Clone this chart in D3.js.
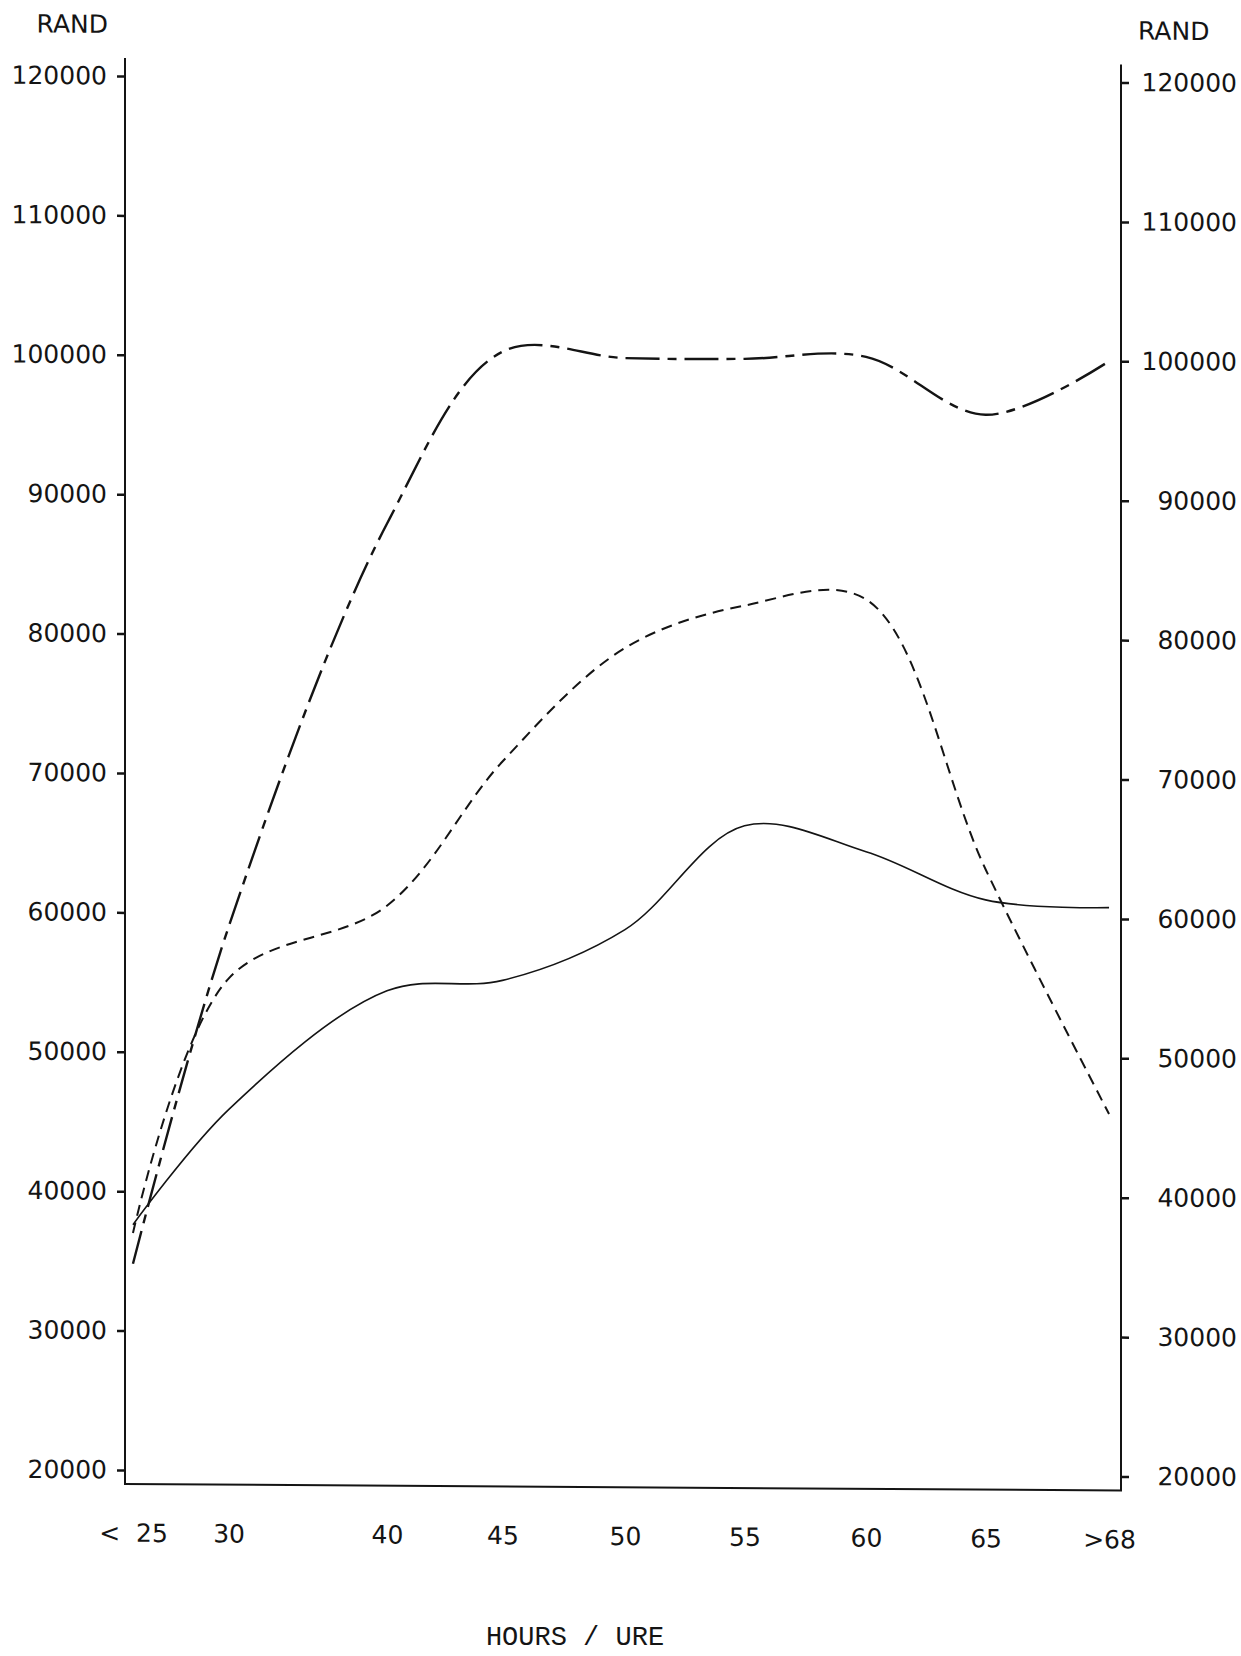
<!DOCTYPE html>
<html>
<head>
<meta charset="utf-8">
<script src="https://cdn.jsdelivr.net/npm/d3@7"></script>
<style>
    body { margin: 0; background: #fff; }
    .axis-label { font-family: "DejaVu Sans", sans-serif; font-size: 25px; fill: #141414; }
    .axis text { font-family: "DejaVu Sans", sans-serif; font-size: 25px; fill: #141414; }
    .axis line { stroke: #141414; stroke-width: 2.5; }
    .axis .domain { display: none; }
    .frame { stroke: #141414; stroke-width: 2; fill: none; }
    .series { fill: none; stroke: #141414; stroke-linecap: butt; }
    .title-x { font-family: "Liberation Mono", monospace; font-size: 27px; fill: #141414; }
</style>
</head>
<body>
<div id="chart"></div>
<script>
// hours categories (x axis)
const hourLabels = ["<  25", "30", "40", "45", "50", "55", "60", "65", ">68"];
const hours = [25, 30, 40, 45, 50, 55, 60, 65, 68];

// rand ticks (y axis)
const randTicks = [20000, 30000, 40000, 50000, 60000, 70000, 80000, 90000, 100000, 110000, 120000];

// series values
const solidValues = [37600, 45900, 54500, 55300, 59000, 66500, 64700, 61300, 60800];
const dashedValues = [37000, 55300, 60600, 71000, 79200, 82300, 82800, 63500, 46000];
const dashDotValues = [34800, 59000, 88000, 100400, 100000, 100000, 100200, 96100, 100000];

const config = {
    width: 1241,
    height: 1656,
    left: 125,
    right: 1121,
    yTop: 76,        // pixel of 120000
    yBottom: 1470,   // pixel of 20000
    axisTop: 58,
    axisBottom: 1484,
    skew: 0.374      // the scan is sheared a little: right side sits lower
};

const plotWidth = config.right - config.left;
// category positions along the plot width (not evenly spaced on the original)
const xStops = [0.008, 0.104, 0.263, 0.379, 0.502, 0.622, 0.744, 0.864, 0.988];

const x = d3.scaleLinear()
    .domain(hours)
    .range(xStops.map(f => config.left + f * plotWidth));

const y = d3.scaleLinear()
    .domain([20000, 120000])
    .range([config.yBottom, config.yTop]);

const svg = d3.select("#chart").append("svg")
    .attr("width", config.width)
    .attr("height", config.height);

svg.append("rect")
    .attr("width", config.width)
    .attr("height", config.height)
    .attr("fill", "#fff");

const g = svg.append("g")
    .attr("transform", `translate(${config.left},0) skewY(${config.skew}) translate(${-config.left},0)`);

// axis lines
g.append("line").attr("class", "frame")
    .attr("x1", config.left).attr("x2", config.left)
    .attr("y1", config.axisTop).attr("y2", config.axisBottom);
g.append("line").attr("class", "frame")
    .attr("x1", config.right).attr("x2", config.right)
    .attr("y1", config.axisTop).attr("y2", config.axisBottom);
g.append("line").attr("class", "frame")
    .attr("x1", config.left - 1).attr("x2", config.right + 1)
    .attr("y1", config.axisBottom).attr("y2", config.axisBottom);

// left axis
const yAxisLeft = d3.axisLeft(y)
    .tickValues(randTicks)
    .tickSize(8)
    .tickPadding(10)
    .tickFormat(d3.format("d"));

g.append("g")
    .attr("class", "axis y-left")
    .attr("transform", `translate(${config.left},0)`)
    .call(yAxisLeft);

// right axis, labels right aligned at the page edge
const yAxisRight = d3.axisRight(y)
    .tickValues(randTicks)
    .tickSize(8)
    .tickFormat(d3.format("d"));

g.append("g")
    .attr("class", "axis y-right")
    .attr("transform", `translate(${config.right},0)`)
    .call(yAxisRight)
    .selectAll("text")
    .attr("text-anchor", "end")
    .attr("x", 116);

// bottom axis: labels only
const xAxis = d3.axisBottom(x)
    .tickValues(hours)
    .tickSize(0)
    .tickPadding(40)
    .tickFormat((d, i) => hourLabels[i]);

g.append("g")
    .attr("class", "axis x-axis")
    .attr("transform", `translate(0,${config.axisBottom})`)
    .call(xAxis)
    .selectAll("text")
    .style("white-space", "pre");

// unit labels
g.append("text").attr("class", "axis-label")
    .attr("x", 108).attr("y", 33)
    .attr("text-anchor", "end")
    .text("RAND");
g.append("text").attr("class", "axis-label")
    .attr("x", 1138).attr("y", 33)
    .text("RAND");

svg.append("text").attr("class", "title-x")
    .attr("x", 575).attr("y", 1645)
    .attr("text-anchor", "middle")
    .text("HOURS / URE");

// lines
const line = d3.line()
    .x((d, i) => x(hours[i]))
    .y(d => y(d))
    .curve(d3.curveCatmullRom.alpha(0.5));

g.append("path")
    .datum(solidValues)
    .attr("class", "series solid")
    .attr("stroke-width", 1.6)
    .attr("d", line);

g.append("path")
    .datum(dashedValues)
    .attr("class", "series dashed")
    .attr("stroke-width", 2)
    .attr("stroke-dasharray", "11,7")
    .attr("d", line);

g.append("path")
    .datum(dashDotValues)
    .attr("class", "series dashdot")
    .attr("stroke-width", 2.4)
    .attr("stroke-dasharray", "34,8,9,8")
    .attr("d", line);
</script>
</body>
</html>
